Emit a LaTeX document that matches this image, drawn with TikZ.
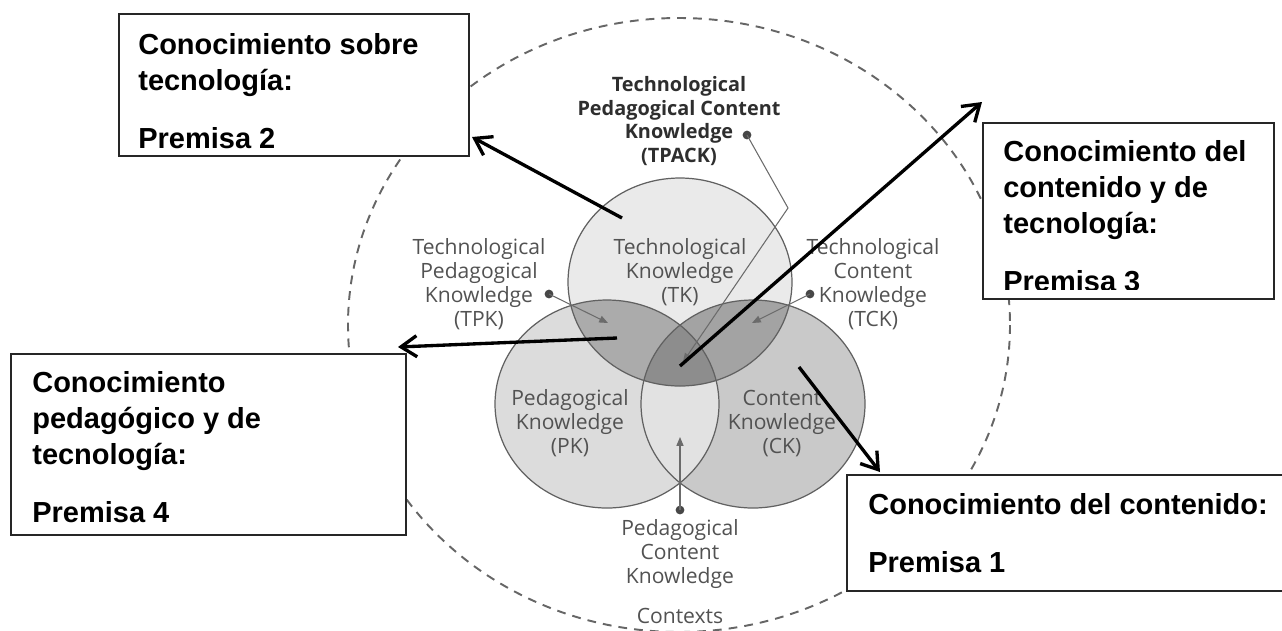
\documentclass[tikz,border=0pt]{standalone}
\usepackage{fontspec}
\setmainfont{Liberation Sans}
\newfontfamily\vennfont{Open Sans}
\usetikzlibrary{arrows.meta,fit}

\definecolor{tkfill}{HTML}{EAEAEA}
\definecolor{pkfill}{HTML}{DCDCDC}
\definecolor{ckfill}{HTML}{C9C9C9}
\definecolor{pckfill}{HTML}{E2E2E2}
\definecolor{tpkfill}{HTML}{ABABAB}
\definecolor{tckfill}{HTML}{A3A3A3}
\definecolor{tpackfill}{HTML}{8D8D8D}

\tikzset{
  premisa/.style={draw=black!85, line width=0.6pt, fill=white, inner sep=0pt},
  premtext/.style={font=\fontsize{16.5}{20.4}\selectfont\bfseries, align=left, inner sep=0pt, anchor=base west},
  lbl/.style={font=\vennfont\fontsize{12}{13.5}\selectfont, text=black!68, align=center, inner sep=0pt, anchor=base},
  tpacklbl/.style={font=\vennfont\bfseries\fontsize{11.3}{13.3}\selectfont, text=black!82, align=center, inner sep=0pt, anchor=base},
  ring/.style={draw=black!62, line width=0.7pt},
  leader/.style={draw=black!58, line width=0.6pt, -{Triangle[length=5pt,width=4pt]}},
  pointer/.style={draw=black, line width=1.9pt, -{Straight Barb[length=9pt,width=12pt]}},
  dot/.style={circle, fill=black!72, inner sep=0pt, minimum size=5pt},
}

\begin{document}
\begin{tikzpicture}[x=0.02cm, y=-0.02cm]
  \useasboundingbox (0,0) rectangle (1282,630);
  \clip (0,0) rectangle (1282,630);

  % contexts
  \draw[black!60, line width=1.1pt, dash pattern=on 5pt off 4pt] (679,325) ellipse [x radius=331, y radius=307];

  % the three knowledge circles
  \coordinate (tk) at (680,282);
  \coordinate (pk) at (607,404);
  \coordinate (ck) at (753,404);
  \fill[tkfill] (tk) ellipse [x radius=112, y radius=104];
  \fill[pkfill] (pk) ellipse [x radius=112, y radius=104];
  \fill[ckfill] (ck) ellipse [x radius=112, y radius=104];
  \begin{scope}
    \clip (pk) ellipse [x radius=112, y radius=104];
    \fill[pckfill] (ck) ellipse [x radius=112, y radius=104];
  \end{scope}
  \begin{scope}
    \clip (tk) ellipse [x radius=112, y radius=104];
    \fill[tpkfill] (pk) ellipse [x radius=112, y radius=104];
    \fill[tckfill] (ck) ellipse [x radius=112, y radius=104];
    \clip (pk) ellipse [x radius=112, y radius=104];
    \fill[tpackfill] (ck) ellipse [x radius=112, y radius=104];
  \end{scope}
  \draw[ring] (tk) ellipse [x radius=112, y radius=104];
  \draw[ring] (pk) ellipse [x radius=112, y radius=104];
  \draw[ring] (ck) ellipse [x radius=112, y radius=104];

  % labels (placed at the baseline of their last line)
  \node[tpacklbl] (tpack) at (679,162) {Technological\\Pedagogical Content\\Knowledge\\(TPACK)};
  \node[lbl] (tklbl) at (680,302) {Technological\\Knowledge\\(TK)};
  \node[lbl] (tpklbl) at (479,326) {Technological\\Pedagogical\\Knowledge\\(TPK)};
  \node[lbl] (tcklbl) at (873,326) {Technological\\Content\\Knowledge\\(TCK)};
  \node[lbl] (pklbl) at (570,453) {Pedagogical\\Knowledge\\(PK)};
  \node[lbl] (cklbl) at (782,453) {Content\\Knowledge\\(CK)};
  \node[lbl] (pcklbl) at (680,583) {Pedagogical\\Content\\Knowledge};
  \node[lbl] (ctx) at (680,623) {Contexts};

  \node[dot] (dtpack) at (747,135) {};
  \node[dot] (dtpk) at (549,294) {};
  \node[dot] (dtck) at (810,294) {};
  \node[dot] (dpck) at (680,510) {};
  \coordinate (kink) at (788,208);
  \coordinate (ttpack) at (683,362);
  \coordinate (ttpk) at (608,323);
  \coordinate (ttck) at (752,323);
  \coordinate (tpck) at (680,437);
  \draw[leader] (dtpack.center) -- (kink) -- (ttpack);
  \draw[leader] (dtpk.center) -- (ttpk);
  \draw[leader] (dtck.center) -- (ttck);
  \draw[leader] (dpck.center) -- (tpck);

  % premisas
  \node[premisa, fit={(119,14) (469,156)}] (box2) {};
  \node[premtext] (txt2) at (138,148) {Conocimiento sobre\\tecnología:\\[12.5pt]Premisa 2};
  \node[premisa, fit={(983,123) (1274,299)}] (box3) {};
  \begin{scope}
    \clip (983,123) rectangle (1274,289.5);
    \node[premtext] (txt3) at (1003,291) {Conocimiento del\\contenido y de\\tecnología:\\[12.5pt]Premisa 3};
  \end{scope}
  \node[premisa, fit={(11,354) (406,535)}] (box4) {};
  \node[premtext] (txt4) at (32,522) {Conocimiento\\pedagógico y de\\tecnología:\\[12.5pt]Premisa 4};
  \node[premisa, fit={(847,475) (1295,591)}] (box1) {};
  \node[premtext] (txt1) at (868,572) {Conocimiento del contenido:\\[12.5pt]Premisa 1};

  % pointers
  \coordinate (s2) at (622,218);
  \coordinate (e2) at (472,137);
  \coordinate (s4) at (617,338);
  \coordinate (e4) at (398,347);
  \coordinate (s3) at (680,366);
  \coordinate (e3) at (982,102);
  \coordinate (s1) at (799,367);
  \coordinate (e1) at (880,472);
  \draw[pointer] (s2) -- (e2);
  \draw[pointer] (s4) -- (e4);
  \draw[pointer] (s3) -- (e3);
  \draw[pointer] (s1) -- (e1);
\end{tikzpicture}
\end{document}
